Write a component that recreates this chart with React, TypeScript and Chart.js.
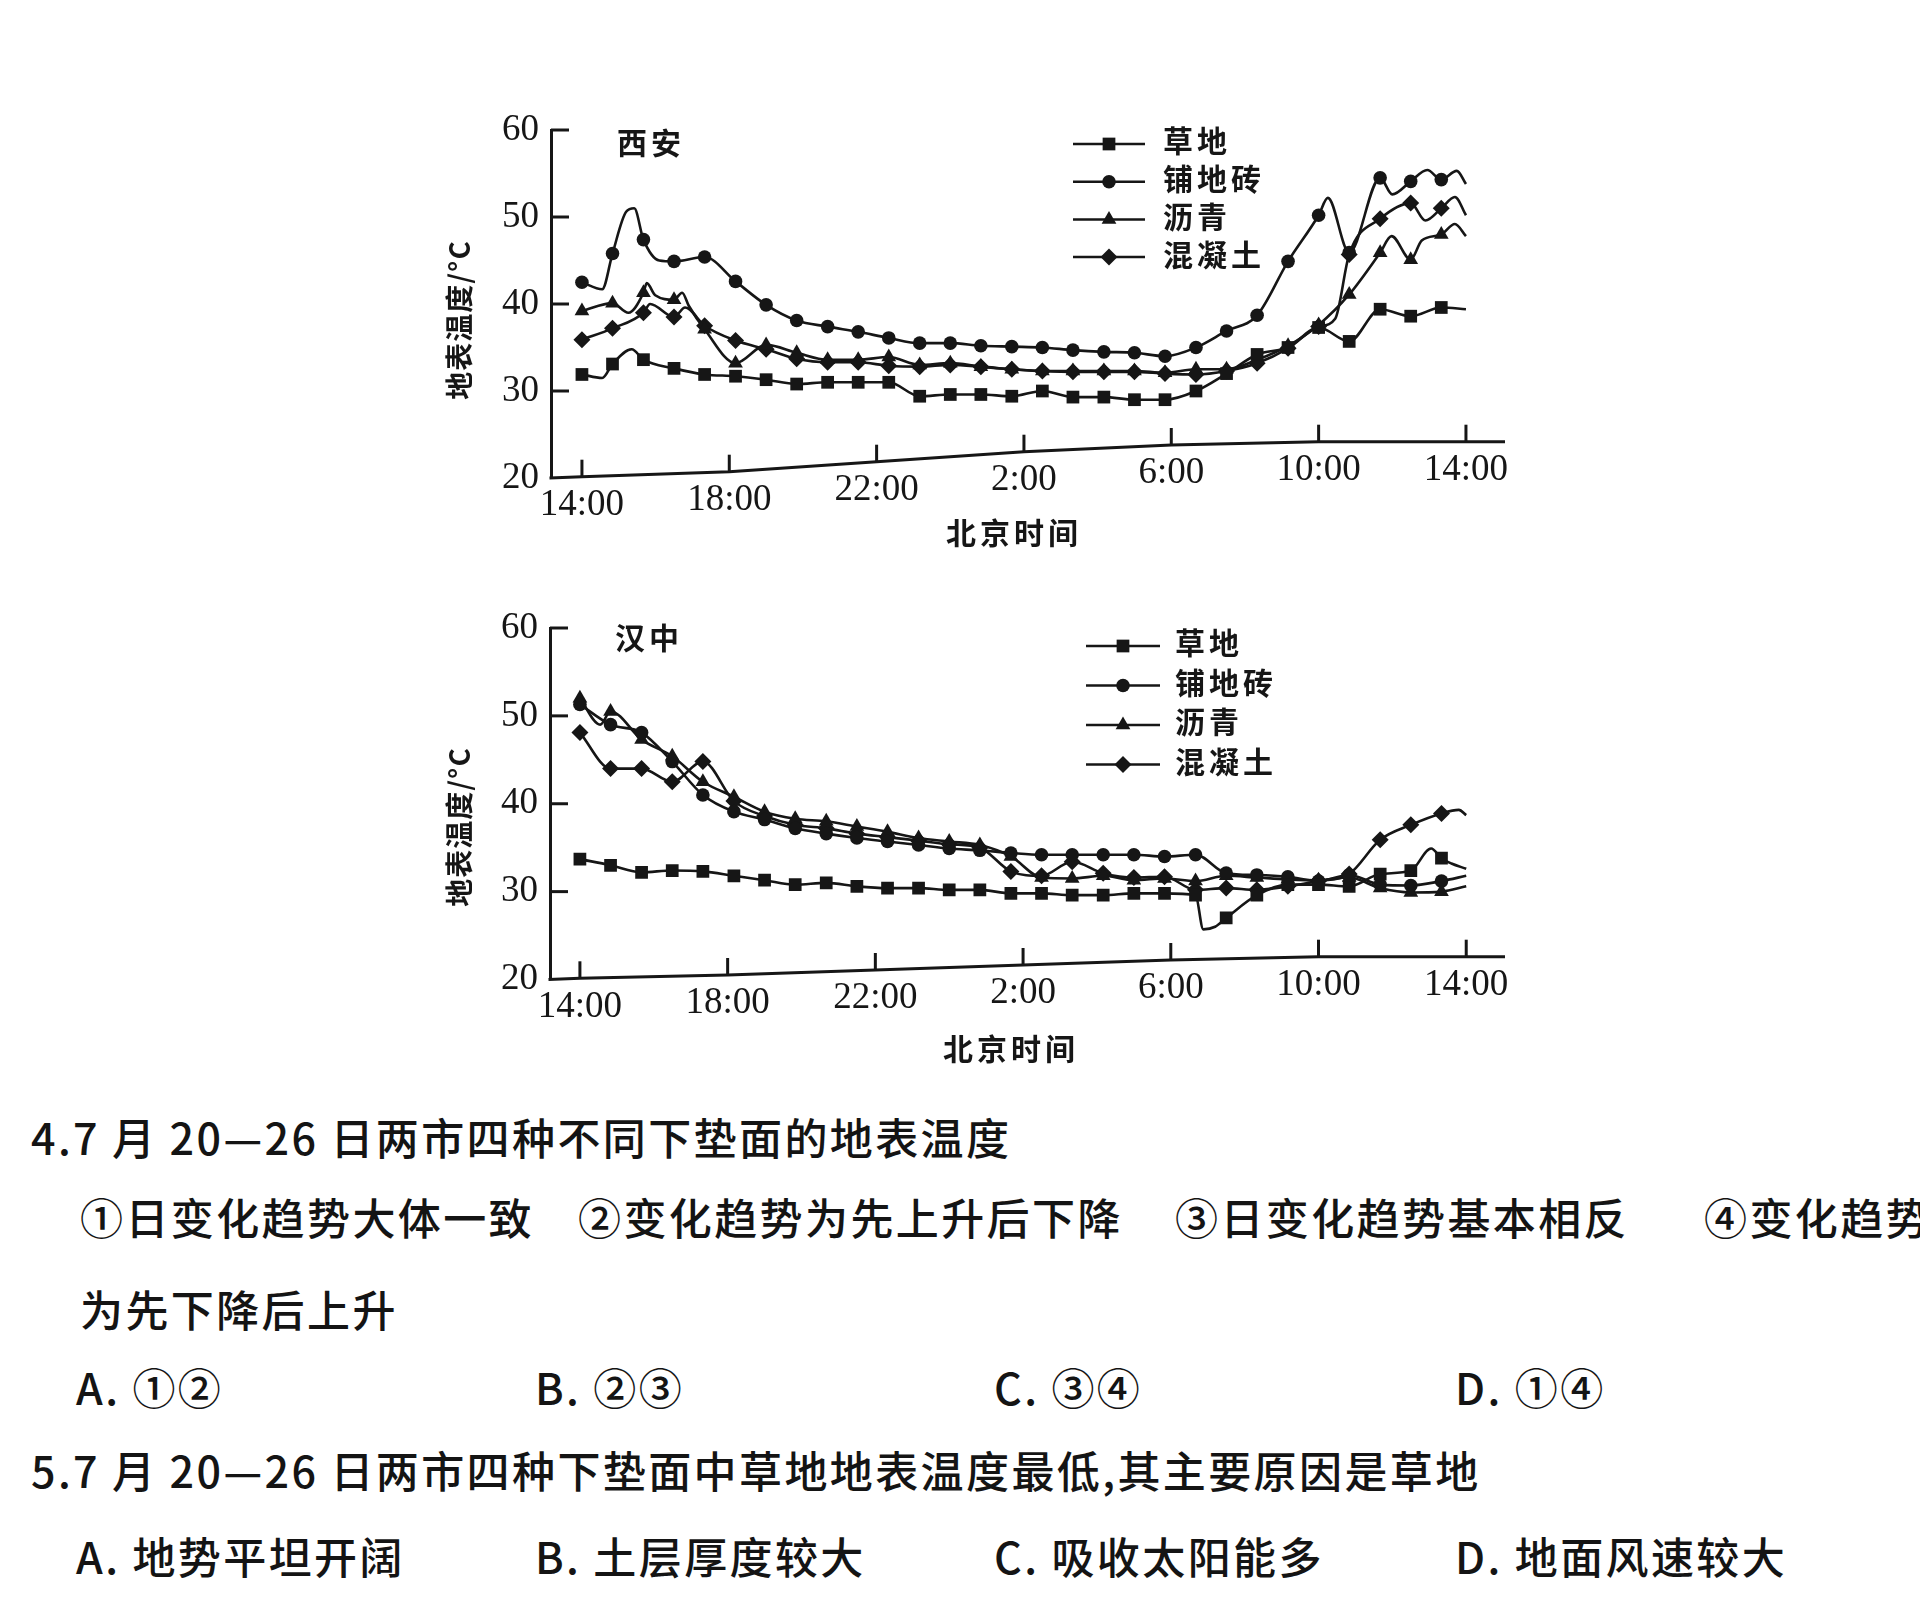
import React, { useEffect, useRef } from "react";
import { Chart, registerables } from "chart.js";
import { drawPoint } from "chart.js/helpers";

Chart.register(...registerables);

const INK = "#161616";

const SERIES_NAMES = ["草地", "铺地砖", "沥青", "混凝土"];
const POINT_STYLES = ["rect", "circle", "triangle", "rectRot"];
const POINT_RADII = [9, 6.8, 8.5, 8.5];
const X_TICK_HOURS = [0, 4, 8, 12, 16, 20, 24];
const X_TICK_LABELS = ["14:00", "18:00", "22:00", "2:00", "6:00", "10:00", "14:00"];
const Y_TICKS = [20, 30, 40, 50, 60];
const Y_TITLE = "地表温度/°C";
const X_TITLE = "北京时间";

// hours after 14:00 at which the markers sit (every 50 minutes)
const MARK_HOURS = [0, 0.83, 1.67, 2.5, 3.33, 4.17, 5, 5.83, 6.67, 7.5, 8.33, 9.17, 10, 10.83, 11.67, 12.5, 13.33, 14.17, 15, 15.83, 16.67, 17.5, 18.33, 19.17, 20, 20.83, 21.67, 22.5, 23.33];

// 西安
const XA_GRASS = [31.9, 33.1, 33.6, 32.6, 31.9, 31.7, 31.3, 30.8, 31.0, 31.0, 31.0, 29.4, 29.6, 29.6, 29.4, 30.0, 29.3, 29.3, 29.0, 29.0, 30.0, 32.0, 34.2, 35.0, 37.3, 35.7, 39.4, 38.6, 39.6];
const XA_TILE = [42.5, 45.8, 47.4, 44.9, 45.4, 42.6, 39.9, 38.1, 37.4, 36.8, 36.1, 35.5, 35.5, 35.2, 35.1, 35.0, 34.7, 34.5, 34.4, 34.0, 35.0, 36.9, 38.7, 44.9, 50.2, 45.9, 54.5, 54.1, 54.3];
const XA_ASPHALT = [39.2, 40.1, 41.3, 40.5, 37.1, 33.2, 35.3, 34.4, 33.6, 33.6, 33.9, 33.0, 33.2, 32.8, 32.5, 32.3, 32.3, 32.3, 32.3, 32.1, 32.5, 32.5, 33.6, 35.2, 37.6, 41.1, 45.9, 45.1, 48.0];
const XA_CONCRETE = [35.9, 37.2, 39.0, 38.5, 37.5, 35.8, 34.8, 33.7, 33.3, 33.3, 32.9, 32.8, 33.0, 32.8, 32.5, 32.3, 32.2, 32.2, 32.2, 32.0, 31.9, 32.3, 33.2, 34.9, 37.4, 45.7, 49.8, 51.6, 51.0];
// unmarked line vertices [hour, value]
const XA_GRASS_EXTRA = [[0.55, 31.5], [1.35, 34.8], [24, 39.4]];
const XA_TILE_EXTRA = [[0.55, 41.7], [1.2, 50.6], [1.42, 51.0], [2.1, 45.0], [20.25, 52.2], [22.0, 52.6], [22.95, 55.4], [23.75, 55.3], [24, 53.8]];
const XA_ASPHALT_EXTRA = [[1.26, 39.0], [1.76, 42.4], [1.99, 41.0], [2.72, 41.3], [2.9, 39.8], [21.98, 47.8], [22.8, 47.3], [23.7, 49.2], [24, 47.8]];
const XA_CONCRETE_EXTRA = [[1.85, 40.0], [2.8, 39.6], [20.45, 38.3], [22.9, 49.6], [23.7, 52.3], [24, 50.2]];

// 汉中
const HZ_GRASS = [33.7, 33.0, 32.2, 32.4, 32.3, 31.8, 31.3, 30.8, 31.0, 30.6, 30.4, 30.4, 30.2, 30.2, 29.8, 29.8, 29.6, 29.6, 29.8, 29.8, 29.6, 27.0, 29.6, 30.8, 30.8, 30.6, 32.0, 32.4, 33.8];
const HZ_TILE = [51.3, 49.0, 48.1, 44.8, 41.0, 39.1, 38.2, 37.2, 36.6, 36.1, 35.7, 35.3, 34.9, 34.7, 34.4, 34.2, 34.2, 34.2, 34.2, 34.0, 34.2, 32.1, 31.9, 31.7, 31.2, 31.9, 30.8, 30.7, 31.2];
const HZ_ASPHALT = [52.0, 50.5, 47.3, 45.4, 42.5, 40.8, 39.1, 38.3, 38.0, 37.4, 36.8, 36.1, 35.7, 35.3, 34.0, 31.6, 31.5, 31.8, 31.3, 31.5, 31.2, 31.8, 31.6, 31.4, 31.3, 31.6, 30.4, 29.9, 30.0];
const HZ_CONCRETE = [48.1, 44.0, 44.0, 42.5, 44.8, 40.3, 38.6, 37.6, 37.2, 36.6, 36.2, 35.8, 35.4, 35.0, 32.3, 31.8, 33.4, 32.1, 31.6, 31.7, 30.2, 30.4, 30.2, 30.6, 31.2, 32.0, 35.9, 37.6, 38.9];
const HZ_GRASS_EXTRA = [[16.88, 25.7], [17.2, 26.0], [23.05, 34.9], [23.6, 33.2], [24, 32.6]];
const HZ_TILE_EXTRA = [[24, 31.8]];
const HZ_ASPHALT_EXTRA = [[0.55, 49.0], [24, 30.6]];
const HZ_CONCRETE_EXTRA = [[23.8, 39.3], [24, 38.7]];

// question text
const Q4_STEM = "4.7 月 20—26 日两市四种不同下垫面的地表温度";
const Q4_ITEMS = ["①日变化趋势大体一致", "②变化趋势为先上升后下降", "③日变化趋势基本相反", "④变化趋势"];
const Q4_ITEM_CONT = "为先下降后上升";
const Q4_OPTIONS = ["A. ①②", "B. ②③", "C. ③④", "D. ①④"];
const Q5_STEM = "5.7 月 20—26 日两市四种下垫面中草地地表温度最低,其主要原因是草地";
const Q5_OPTIONS = ["A. 地势平坦开阔", "B. 土层厚度较大", "C. 吸收太阳能多", "D. 地面风速较大"];

function buildSeries(values: number[], extra: number[][]) {
  const pts = values.map((v, i) => ({ x: MARK_HOURS[i], y: v, m: 1 }));
  extra.forEach(([x, y]) => pts.push({ x, y, m: 0 }));
  pts.sort((a, b) => a.x - b.x);
  return pts;
}

const CJK = '"Noto Sans CJK SC", sans-serif';
const SERIF = '"Liberation Serif", serif';
const LABEL_GAP = 28.5; // distance from the (scanned, slightly tilted) x axis to label centre
const LABEL_LIFT = 60; // x scale box raised so that labels on the tilted part are not clipped

const decorPlugin = {
  id: "decor",
  afterLayout(chart: any) {
    const xs = chart.scales.x;
    if (xs) xs.top = xs.top - LABEL_LIFT;
  },
  afterDraw(chart: any, _args: any, opts: any) {
    const { ctx, chartArea: ca, scales } = chart;
    const xs = scales.x;
    const ys = scales.y;
    const sag: number[] = opts.axisSag;
    ctx.save();
    ctx.strokeStyle = INK;
    ctx.fillStyle = INK;
    ctx.lineWidth = 3;
    ctx.lineJoin = "round";
    // x axis line (follows the scan's slight tilt)
    ctx.beginPath();
    ctx.moveTo(ca.left - 1.5, ca.bottom);
    X_TICK_HOURS.forEach((h, i) => ctx.lineTo(xs.getPixelForValue(h), ca.bottom - sag[i]));
    ctx.lineTo(ca.right, ca.bottom - sag[sag.length - 1]);
    ctx.stroke();
    // inward ticks
    Y_TICKS.forEach((v) => {
      if (v === Y_TICKS[0]) return;
      const y = ys.getPixelForValue(v);
      ctx.beginPath();
      ctx.moveTo(ca.left, y);
      ctx.lineTo(ca.left + 18, y);
      ctx.stroke();
    });
    X_TICK_HOURS.forEach((h, i) => {
      const x = xs.getPixelForValue(h);
      ctx.beginPath();
      ctx.moveTo(x, ca.bottom - sag[i]);
      ctx.lineTo(x, ca.bottom - sag[i] - 17);
      ctx.stroke();
    });

    // city label
    ctx.textBaseline = "middle";
    ctx.textAlign = "left";
    ctx.font = `bold 30px ${CJK}`;
    (ctx as any).letterSpacing = "4px";
    ctx.fillText(opts.title, opts.titleX, opts.titleY);

    // x title
    ctx.textAlign = "center";
    ctx.font = `bold 30px ${CJK}`;
    (ctx as any).letterSpacing = "4px";
    ctx.fillText(X_TITLE, opts.xTitleX, opts.xTitleY);

    // y title
    ctx.save();
    ctx.translate(opts.yTitleX, opts.yTitleY);
    ctx.rotate(-Math.PI / 2);
    ctx.font = `bold 28px ${CJK}`;
    (ctx as any).letterSpacing = "1px";
    ctx.textAlign = "center";
    ctx.fillText(Y_TITLE, 0, 0);
    ctx.restore();

    // legend
    ctx.textAlign = "left";
    ctx.font = `bold 30px ${CJK}`;
    (ctx as any).letterSpacing = "4px";
    SERIES_NAMES.forEach((name, k) => {
      const yl = opts.legendY + k * opts.legendDy;
      ctx.lineWidth = 2.5;
      ctx.beginPath();
      ctx.moveTo(opts.legendX0, yl + 3);
      ctx.lineTo(opts.legendX1, yl + 3);
      ctx.stroke();
      drawPoint(ctx, { pointStyle: POINT_STYLES[k], radius: POINT_RADII[k], rotation: 0, borderWidth: 0 } as any, (opts.legendX0 + opts.legendX1) / 2, yl + 3);
      ctx.fillText(name, opts.legendTextX, yl);
    });
    ctx.restore();
  },
};

type PanelProps = {
  left: number;
  top: number;
  width: number;
  height: number;
  padTop: number;
  padRight: number;
  yWidth: number;
  xHeight: number;
  xMin: number;
  xMax: number;
  series: any[][];
  decor: any;
};

function Panel(p: PanelProps) {
  const ref = useRef<HTMLCanvasElement | null>(null);
  useEffect(() => {
    if (!ref.current) return;
    const sag: number[] = p.decor.axisSag;
    const chart = new Chart(ref.current, {
      type: "line",
      data: {
        datasets: p.series.map((s, k) => ({
          label: SERIES_NAMES[k],
          data: s,
          borderColor: INK,
          backgroundColor: INK,
          borderWidth: 2.6,
          pointStyle: POINT_STYLES[k],
          pointRadius: (ctx: any) => (ctx.raw && ctx.raw.m ? POINT_RADII[k] : 0),
          pointHoverRadius: 0,
          pointBorderWidth: 0,
          pointBackgroundColor: INK,
          cubicInterpolationMode: "monotone",
          fill: false,
        })),
      },
      options: {
        responsive: false,
        animation: false,
        devicePixelRatio: 1,
        events: [],
        layout: { padding: { left: 0, top: p.padTop, right: p.padRight, bottom: 0 }, autoPadding: false },
        plugins: {
          legend: { display: false },
          tooltip: { enabled: false },
          title: { display: false },
          decor: p.decor,
        },
        scales: {
          x: {
            type: "linear",
            min: p.xMin,
            max: p.xMax,
            afterBuildTicks: (s: any) => {
              s.ticks = X_TICK_HOURS.map((v) => ({ value: v }));
            },
            afterFit: (s: any) => {
              s.height = p.xHeight;
            },
            ticks: {
              autoSkip: false,
              maxRotation: 0,
              padding: 0,
              color: INK,
              font: (c: any) => ({
                family: SERIF,
                size: 37,
                lineHeight: `${2 * (LABEL_GAP - (sag[c.index] || 0) + LABEL_LIFT)}px`,
              }),
              callback: (v: any) => X_TICK_LABELS[X_TICK_HOURS.indexOf(Number(v))],
            },
            grid: { display: true, drawOnChartArea: false, drawTicks: false },
            border: { display: false },
          },
          y: {
            type: "linear",
            min: 20,
            max: 60,
            afterBuildTicks: (s: any) => {
              s.ticks = Y_TICKS.map((v) => ({ value: v }));
            },
            afterFit: (s: any) => {
              s.width = p.yWidth;
            },
            ticks: {
              padding: 12,
              color: INK,
              font: { family: SERIF, size: 37 },
            },
            grid: { display: true, drawOnChartArea: false, drawTicks: false },
            border: { display: true, color: INK, width: 3 },
          },
        },
      } as any,
      plugins: [decorPlugin as any],
    });
    return () => chart.destroy();
  }, []);
  return (
    <canvas
      ref={ref}
      width={p.width}
      height={p.height}
      style={{ position: "absolute", left: p.left, top: p.top, width: p.width, height: p.height }}
    />
  );
}

const textBase: React.CSSProperties = {
  position: "absolute",
  fontFamily: CJK,
  fontSize: 43,
  fontWeight: 500,
  lineHeight: "56px",
  height: 56,
  letterSpacing: 2.4,
  color: "#141414",
  whiteSpace: "nowrap",
};

function Line({ text, left, cy }: { text: string; left: number; cy: number }) {
  return <div style={{ ...textBase, left, top: cy - 28 }}>{text}</div>;
}

export default function App() {
  const xaSeries = [
    buildSeries(XA_GRASS, XA_GRASS_EXTRA),
    buildSeries(XA_TILE, XA_TILE_EXTRA),
    buildSeries(XA_ASPHALT, XA_ASPHALT_EXTRA),
    buildSeries(XA_CONCRETE, XA_CONCRETE_EXTRA),
  ];
  const hzSeries = [
    buildSeries(HZ_GRASS, HZ_GRASS_EXTRA),
    buildSeries(HZ_TILE, HZ_TILE_EXTRA),
    buildSeries(HZ_ASPHALT, HZ_ASPHALT_EXTRA),
    buildSeries(HZ_CONCRETE, HZ_CONCRETE_EXTRA),
  ];
  const optionX = [76, 535, 994, 1455];
  const itemX = [80, 578, 1175, 1704];
  return (
    <div
      style={{
        position: "absolute",
        left: 0,
        top: 0,
        width: 1920,
        height: 1597,
        overflow: "hidden",
        background: "#ffffff",
      }}
    >
      <Panel
        left={400}
        top={90}
        width={1120}
        height={480}
        padTop={40}
        padRight={15}
        yWidth={151}
        xHeight={92}
        xMin={-0.84}
        xMax={25.06}
        series={xaSeries}
        decor={{
          title: "西安",
          titleX: 217,
          titleY: 53,
          xTitleX: 614,
          xTitleY: 443,
          yTitleX: 59,
          yTitleY: 230,
          legendX0: 673,
          legendX1: 745,
          legendY: 51,
          legendDy: 37.7,
          legendTextX: 763,
          axisSag: [1.3, 6.3, 16.3, 26.3, 33, 36.3, 36.3],
        }}
      />
      <Panel
        left={400}
        top={590}
        width={1120}
        height={490}
        padTop={38}
        padRight={15}
        yWidth={150}
        xHeight={100.5}
        xMin={-0.81}
        xMax={25.05}
        series={hzSeries}
        decor={{
          title: "汉中",
          titleX: 215,
          titleY: 48,
          xTitleX: 611,
          xTitleY: 459,
          yTitleX: 59,
          yTitleY: 237,
          legendX0: 686,
          legendX1: 760,
          legendY: 53,
          legendDy: 39.5,
          legendTextX: 775,
          axisSag: [1.2, 4.5, 9.5, 14.5, 19.5, 22.8, 22.8],
        }}
      />
      <Line text={Q4_STEM} left={31} cy={1136} />
      {Q4_ITEMS.map((t, i) => (
        <Line key={"i" + i} text={t} left={itemX[i]} cy={1216} />
      ))}
      <Line text={Q4_ITEM_CONT} left={80} cy={1308} />
      {Q4_OPTIONS.map((t, i) => (
        <Line key={"o" + i} text={t} left={optionX[i]} cy={1386} />
      ))}
      <Line text={Q5_STEM} left={31} cy={1469} />
      {Q5_OPTIONS.map((t, i) => (
        <Line key={"p" + i} text={t} left={optionX[i]} cy={1555} />
      ))}
    </div>
  );
}
